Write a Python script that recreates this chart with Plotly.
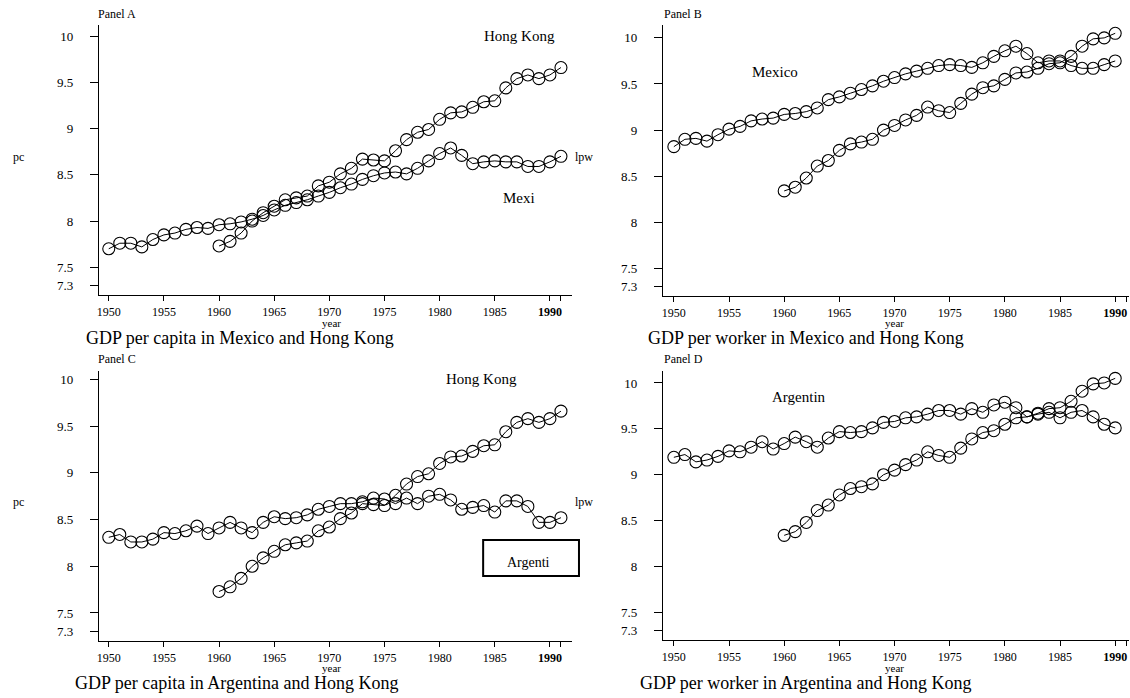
import plotly.graph_objects as go

# years
yrs_50_91 = list(range(1950, 1992))
yrs_50_90 = list(range(1950, 1991))
yrs_60_91 = list(range(1960, 1992))
yrs_60_90 = list(range(1960, 1991))

# log GDP per capita (pc) and per worker (lpw)
mex_pc = [7.70, 7.76, 7.76, 7.72, 7.80, 7.85, 7.87, 7.91, 7.93, 7.92,
          7.96, 7.97, 7.99, 8.02, 8.06, 8.12, 8.17, 8.20, 8.23, 8.27,
          8.31, 8.36, 8.40, 8.45, 8.49, 8.52, 8.53, 8.51, 8.57, 8.65,
          8.73, 8.79, 8.71, 8.62, 8.64, 8.65, 8.64, 8.64, 8.59, 8.59,
          8.64, 8.70]
hk_pc = [7.73, 7.78, 7.87, 8.00, 8.09, 8.16, 8.23, 8.25, 8.27, 8.38,
         8.42, 8.51, 8.57, 8.67, 8.66, 8.65, 8.76, 8.88, 8.96, 8.99,
         9.10, 9.17, 9.18, 9.23, 9.29, 9.30, 9.44, 9.54, 9.58, 9.54,
         9.58, 9.66]
mex_pw = [8.82, 8.90, 8.91, 8.88, 8.95, 9.01, 9.04, 9.10, 9.12, 9.13,
          9.17, 9.18, 9.20, 9.24, 9.33, 9.36, 9.40, 9.44, 9.48, 9.53,
          9.57, 9.61, 9.64, 9.67, 9.70, 9.71, 9.70, 9.68, 9.73, 9.80,
          9.86, 9.91, 9.83, 9.73, 9.75, 9.75, 9.70, 9.67, 9.67, 9.71,
          9.75]
hk_pw = [8.34, 8.38, 8.48, 8.61, 8.67, 8.78, 8.85, 8.87, 8.90, 9.00,
         9.05, 9.11, 9.16, 9.25, 9.21, 9.19, 9.29, 9.39, 9.46, 9.48,
         9.55, 9.62, 9.63, 9.67, 9.72, 9.73, 9.80, 9.91, 9.99, 10.00,
         10.05]
arg_pc = [8.31, 8.34, 8.26, 8.26, 8.29, 8.36, 8.35, 8.38, 8.43, 8.35,
          8.41, 8.47, 8.41, 8.36, 8.47, 8.53, 8.51, 8.52, 8.55, 8.61,
          8.64, 8.67, 8.67, 8.69, 8.73, 8.72, 8.67, 8.73, 8.67, 8.75,
          8.77, 8.71, 8.61, 8.63, 8.65, 8.58, 8.70, 8.70, 8.64, 8.47,
          8.47, 8.52]
arg_pw = [9.19, 9.22, 9.14, 9.16, 9.20, 9.26, 9.25, 9.30, 9.36, 9.28,
          9.34, 9.41, 9.36, 9.30, 9.40, 9.47, 9.46, 9.47, 9.51, 9.57,
          9.58, 9.62, 9.63, 9.66, 9.70, 9.70, 9.66, 9.72, 9.68, 9.76,
          9.79, 9.73, 9.63, 9.66, 9.68, 9.62, 9.68, 9.70, 9.63, 9.55,
          9.51]

ytick_vals = [7.3, 7.5, 8, 8.5, 9, 9.5, 10]
ytick_text = ["7.3", "7.5", "8", "8.5", "9", "9.5", "10"]
xtick_vals = [1950, 1955, 1960, 1965, 1970, 1975, 1980, 1985, 1990, 1991]
xtick_text = ["1950", "1955", "1960", "1965", "1970", "1975", "1980", "1985", "<b>1990</b>", ""]

W, H = 1130, 698
FONT = "Liberation Serif"


def px(x):
    return x / W


def py(y):
    return 1 - y / H


fig = go.Figure()

panels = [
    ("", [(yrs_50_91, mex_pc), (yrs_60_91, hk_pc)]),
    ("2", [(yrs_50_90, mex_pw), (yrs_60_90, hk_pw)]),
    ("3", [(yrs_50_91, arg_pc), (yrs_60_91, hk_pc)]),
    ("4", [(yrs_50_90, arg_pw), (yrs_60_90, hk_pw)]),
]
for suf, series in panels:
    for xs, ys in series:
        fig.add_trace(go.Scatter(
            x=xs, y=ys, mode="lines+markers",
            line=dict(color="black", width=1),
            marker=dict(symbol="circle-open", size=12, color="black", line=dict(width=1.1)),
            xaxis="x" + suf, yaxis="y" + suf, showlegend=False,
        ))

# pixel boxes of the plot areas: left, right, top, bottom
boxes = {
    "": (97, 571, 25, 295, [1949.1, 1992.0], [7.2, 10.12]),
    "2": (662, 1129, 25, 296, [1949.0, 1991.25], [7.2, 10.14]),
    "3": (97, 571, 371, 641, [1949.1, 1992.0], [7.2, 10.09]),
    "4": (662, 1129, 371, 640, [1949.0, 1991.25], [7.2, 10.13]),
}
layout = {}
for suf, (l, r, t, b, xr, yr) in boxes.items():
    common = dict(showline=True, linecolor="black", linewidth=1.2, showgrid=False,
                  zeroline=False, ticks="outside", tickcolor="black", tickwidth=1.2,
                  fixedrange=True)
    layout["xaxis" + suf] = dict(common, domain=[px(l), px(r)], range=xr,
                                 anchor="y" + suf, tickmode="array",
                                 tickvals=xtick_vals, ticktext=xtick_text, ticklen=5,
                                 tickfont=dict(family=FONT, size=12, color="black"))
    layout["yaxis" + suf] = dict(common, domain=[py(b), py(t)], range=yr,
                                 anchor="x" + suf, tickmode="array",
                                 tickvals=ytick_vals, ticktext=ytick_text, ticklen=8,
                                 ticklabelstandoff=14,
                                 tickfont=dict(family=FONT, size=13, color="black"))
fig.update_layout(**layout)


def txt(x, y, s, size, xanchor="center", xref="paper", yref="paper", yanchor="middle"):
    if xref == "paper":
        x, y = px(x), py(y)
    fig.add_annotation(x=x, y=y, xref=xref, yref=yref, text=s, showarrow=False,
                       xanchor=xanchor, yanchor=yanchor, borderpad=0,
                       font=dict(family=FONT, size=size, color="black"))


# panel tags
txt(95, 6, "Panel A", 12, "left", yanchor="top")
txt(662, 6, "Panel B", 12, "left", yanchor="top")
txt(95, 351, "Panel C", 12, "left", yanchor="top")
txt(662, 351, "Panel D", 12, "left", yanchor="top")

# side labels
for yy in (157, 502):
    txt(17, yy, "pc", 12)
    txt(573, yy, "lpw", 12, "left")

# x titles
txt(330, 323, "year", 11)
txt(894, 323, "year", 11)
txt(330, 668, "year", 11)
txt(894, 668, "year", 11)

# captions
txt(238, 338, "GDP per capita in Mexico and Hong Kong", 18)
txt(805, 338, "GDP per worker in Mexico and Hong Kong", 18)
txt(235, 683, "GDP per capita in Argentina and Hong Kong", 18)
txt(805, 683, "GDP per worker in Argentina and Hong Kong", 18)

# series labels inside panels
txt(1987.2, 10.0, "Hong Kong", 15, xref="x", yref="y")
txt(1987.2, 8.25, "Mexi", 15, xref="x", yref="y")
txt(1959.2, 9.63, "Mexico", 15, xref="x2", yref="y2")
txt(1983.8, 10.0, "Hong Kong", 15, xref="x3", yref="y3")
txt(1961.3, 9.85, "Argentin", 15, xref="x4", yref="y4")

# boxed label in panel C
fig.add_shape(type="rect", xref="paper", yref="paper",
              x0=px(482), x1=px(578), y0=py(576), y1=py(540),
              line=dict(color="black", width=2), fillcolor="white", layer="above")
txt(527, 562, "Argenti", 14)

fig.update_layout(width=W, height=H, autosize=False,
                  margin=dict(l=0, r=0, t=0, b=0),
                  plot_bgcolor="white", paper_bgcolor="white")

# drop the browser's default body margin so the figure sits at the page corner
fig.write_html("out.html", config={"displayModeBar": False},
               post_script="document.body.style.margin='0';")
